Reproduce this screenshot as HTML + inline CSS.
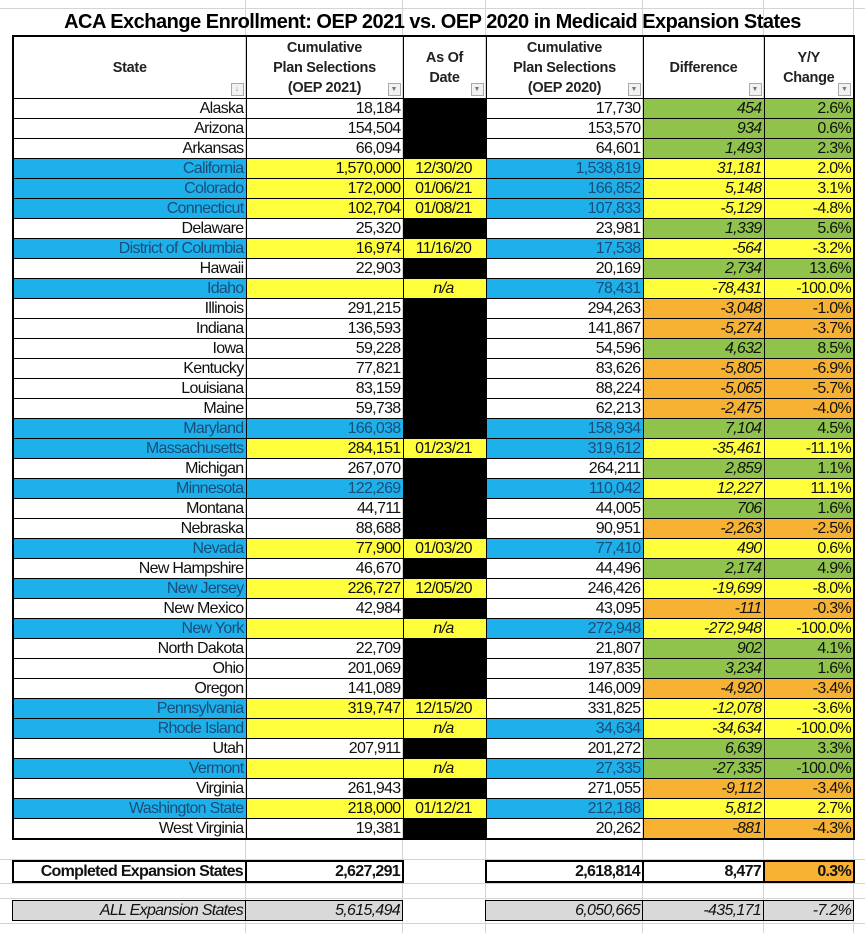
<!DOCTYPE html>
<html><head><meta charset="utf-8"><style>
html,body{margin:0;padding:0;}
body{width:865px;height:933px;position:relative;overflow:hidden;background:#fff;font-family:"Liberation Sans",sans-serif;}
.vl{position:absolute;top:0;height:933px;width:1px;background:#d4d4d4;}
.hl{position:absolute;left:0;width:865px;height:1px;background:#d4d4d4;}
.title{position:absolute;left:0;top:11px;width:865px;text-align:center;font-family:"Liberation Sans",sans-serif;font-weight:bold;font-size:20px;letter-spacing:-0.5px;color:#000;}
table{position:absolute;left:12px;border-collapse:collapse;table-layout:fixed;}
td{border:1px solid #000;height:19px;padding:0 2px 0 0;text-align:right;font-size:16px;letter-spacing:-0.7px;line-height:19px;white-space:nowrap;overflow:hidden;color:#111;}
#main{top:35px;border:2px solid #000;}
th{border:1px solid #000;font-family:"Liberation Sans",sans-serif;font-size:14.5px;letter-spacing:-0.3px;font-weight:bold;line-height:20px;height:61px;position:relative;color:#222;padding:0;}
.f{position:absolute;right:2px;bottom:2px;width:11px;height:11px;border:1px solid #aaa;background:#f2f2f2;font-size:7px;line-height:11px;color:#777;text-align:center;letter-spacing:0;}
.b{background:#1eb0ea;color:#1a4d78;}
.y{background:#ffff3c;}
.g{background:#8fc34b;}
.o{background:#f7b234;}
.k{background:#000;}
.i{font-style:italic;}
.c{text-align:center;}
.tot td{border:2px solid #000;height:19px;font-weight:bold;}
.tot td.n{border:none;}
.all td{background:#d9d9d9;font-style:italic;border:1px solid #000;}
.all td.n{background:transparent;border:none;}
</style></head><body>
<div class="vl" style="left:245px"></div><div class="vl" style="left:402px"></div><div class="vl" style="left:485px"></div><div class="vl" style="left:642px"></div><div class="vl" style="left:763px"></div><div class="vl" style="left:853px"></div>
<div class="hl" style="top:8px"></div>
<div class="hl" style="top:859px"></div><div class="hl" style="top:883px"></div><div class="hl" style="top:898px"></div><div class="hl" style="top:923px"></div>
<div class="title">ACA Exchange Enrollment: OEP 2021 vs. OEP 2020 in Medicaid Expansion States</div>
<table id="main">
<colgroup><col style="width:233px"><col style="width:157px"><col style="width:83px"><col style="width:157px"><col style="width:121px"><col style="width:90px"></colgroup>
<tr><th>State<span class="f">↓</span></th><th>Cumulative<br>Plan Selections<br>(OEP 2021)<span class="f">▼</span></th><th>As Of<br>Date<span class="f">▼</span></th><th>Cumulative<br>Plan Selections<br>(OEP 2020)<span class="f">▼</span></th><th>Difference<span class="f">▼</span></th><th>Y/Y<br>Change<span class="f">▼</span></th></tr>
<tr><td>Alaska</td><td>18,184</td><td class="k"></td><td>17,730</td><td class="g i">454</td><td class="g">2.6%</td></tr>
<tr><td>Arizona</td><td>154,504</td><td class="k"></td><td>153,570</td><td class="g i">934</td><td class="g">0.6%</td></tr>
<tr><td>Arkansas</td><td>66,094</td><td class="k"></td><td>64,601</td><td class="g i">1,493</td><td class="g">2.3%</td></tr>
<tr><td class="b">California</td><td class="y">1,570,000</td><td class="y c">12/30/20</td><td class="b">1,538,819</td><td class="y i">31,181</td><td class="y">2.0%</td></tr>
<tr><td class="b">Colorado</td><td class="y">172,000</td><td class="y c">01/06/21</td><td class="b">166,852</td><td class="y i">5,148</td><td class="y">3.1%</td></tr>
<tr><td class="b">Connecticut</td><td class="y">102,704</td><td class="y c">01/08/21</td><td class="b">107,833</td><td class="y i">-5,129</td><td class="y">-4.8%</td></tr>
<tr><td>Delaware</td><td>25,320</td><td class="k"></td><td>23,981</td><td class="g i">1,339</td><td class="g">5.6%</td></tr>
<tr><td class="b">District of Columbia</td><td class="y">16,974</td><td class="y c">11/16/20</td><td class="b">17,538</td><td class="y i">-564</td><td class="y">-3.2%</td></tr>
<tr><td>Hawaii</td><td>22,903</td><td class="k"></td><td>20,169</td><td class="g i">2,734</td><td class="g">13.6%</td></tr>
<tr><td class="b">Idaho</td><td class="y"></td><td class="y c i">n/a</td><td class="b">78,431</td><td class="y i">-78,431</td><td class="y">-100.0%</td></tr>
<tr><td>Illinois</td><td>291,215</td><td class="k"></td><td>294,263</td><td class="o i">-3,048</td><td class="o">-1.0%</td></tr>
<tr><td>Indiana</td><td>136,593</td><td class="k"></td><td>141,867</td><td class="o i">-5,274</td><td class="o">-3.7%</td></tr>
<tr><td>Iowa</td><td>59,228</td><td class="k"></td><td>54,596</td><td class="g i">4,632</td><td class="g">8.5%</td></tr>
<tr><td>Kentucky</td><td>77,821</td><td class="k"></td><td>83,626</td><td class="o i">-5,805</td><td class="o">-6.9%</td></tr>
<tr><td>Louisiana</td><td>83,159</td><td class="k"></td><td>88,224</td><td class="o i">-5,065</td><td class="o">-5.7%</td></tr>
<tr><td>Maine</td><td>59,738</td><td class="k"></td><td>62,213</td><td class="o i">-2,475</td><td class="o">-4.0%</td></tr>
<tr><td class="b">Maryland</td><td class="b">166,038</td><td class="k"></td><td class="b">158,934</td><td class="g i">7,104</td><td class="g">4.5%</td></tr>
<tr><td class="b">Massachusetts</td><td class="y">284,151</td><td class="y c">01/23/21</td><td class="b">319,612</td><td class="y i">-35,461</td><td class="y">-11.1%</td></tr>
<tr><td>Michigan</td><td>267,070</td><td class="k"></td><td>264,211</td><td class="g i">2,859</td><td class="g">1.1%</td></tr>
<tr><td class="b">Minnesota</td><td class="b">122,269</td><td class="k"></td><td class="b">110,042</td><td class="y i">12,227</td><td class="y">11.1%</td></tr>
<tr><td>Montana</td><td>44,711</td><td class="k"></td><td>44,005</td><td class="g i">706</td><td class="g">1.6%</td></tr>
<tr><td>Nebraska</td><td>88,688</td><td class="k"></td><td>90,951</td><td class="o i">-2,263</td><td class="o">-2.5%</td></tr>
<tr><td class="b">Nevada</td><td class="y">77,900</td><td class="y c">01/03/20</td><td class="b">77,410</td><td class="y i">490</td><td class="y">0.6%</td></tr>
<tr><td>New Hampshire</td><td>46,670</td><td class="k"></td><td>44,496</td><td class="g i">2,174</td><td class="g">4.9%</td></tr>
<tr><td class="b">New Jersey</td><td class="y">226,727</td><td class="y c">12/05/20</td><td>246,426</td><td class="y i">-19,699</td><td class="y">-8.0%</td></tr>
<tr><td>New Mexico</td><td>42,984</td><td class="k"></td><td>43,095</td><td class="o i">-111</td><td class="o">-0.3%</td></tr>
<tr><td class="b">New York</td><td class="y"></td><td class="y c i">n/a</td><td class="b">272,948</td><td class="y i">-272,948</td><td class="y">-100.0%</td></tr>
<tr><td>North Dakota</td><td>22,709</td><td class="k"></td><td>21,807</td><td class="g i">902</td><td class="g">4.1%</td></tr>
<tr><td>Ohio</td><td>201,069</td><td class="k"></td><td>197,835</td><td class="g i">3,234</td><td class="g">1.6%</td></tr>
<tr><td>Oregon</td><td>141,089</td><td class="k"></td><td>146,009</td><td class="o i">-4,920</td><td class="o">-3.4%</td></tr>
<tr><td class="b">Pennsylvania</td><td class="y">319,747</td><td class="y c">12/15/20</td><td>331,825</td><td class="y i">-12,078</td><td class="y">-3.6%</td></tr>
<tr><td class="b">Rhode Island</td><td class="y"></td><td class="y c i">n/a</td><td class="b">34,634</td><td class="y i">-34,634</td><td class="y">-100.0%</td></tr>
<tr><td>Utah</td><td>207,911</td><td class="k"></td><td>201,272</td><td class="g i">6,639</td><td class="g">3.3%</td></tr>
<tr><td class="b">Vermont</td><td class="y"></td><td class="y c i">n/a</td><td class="b">27,335</td><td class="g i">-27,335</td><td class="g">-100.0%</td></tr>
<tr><td>Virginia</td><td>261,943</td><td class="k"></td><td>271,055</td><td class="o i">-9,112</td><td class="o">-3.4%</td></tr>
<tr><td class="b">Washington State</td><td class="y">218,000</td><td class="y c">01/12/21</td><td class="b">212,188</td><td class="y i">5,812</td><td class="y">2.7%</td></tr>
<tr><td>West Virginia</td><td>19,381</td><td class="k"></td><td>20,262</td><td class="o i">-881</td><td class="o">-4.3%</td></tr>
</table>
<table class="tot" style="top:860px">
<colgroup><col style="width:233px"><col style="width:157px"><col style="width:83px"><col style="width:157px"><col style="width:121px"><col style="width:90px"></colgroup>
<tr><td>Completed Expansion States</td><td>2,627,291</td><td class="n"></td><td>2,618,814</td><td>8,477</td><td class="o">0.3%</td></tr>
</table>
<table class="all" style="top:900px">
<colgroup><col style="width:233px"><col style="width:157px"><col style="width:83px"><col style="width:157px"><col style="width:121px"><col style="width:90px"></colgroup>
<tr><td>ALL Expansion States</td><td>5,615,494</td><td class="n"></td><td>6,050,665</td><td>-435,171</td><td>-7.2%</td></tr>
</table>
</body></html>
